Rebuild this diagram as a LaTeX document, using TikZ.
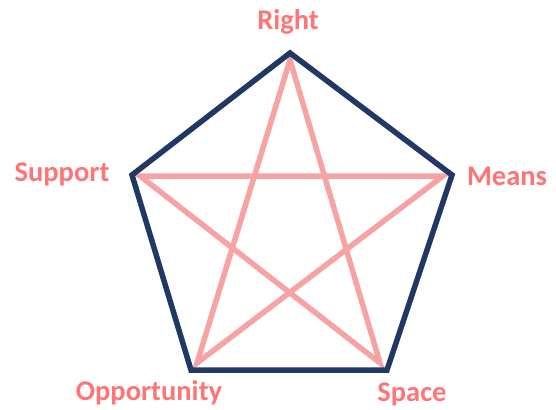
\documentclass[tikz,border=0pt]{standalone}
\usepackage{fontspec}
\setmainfont{Carlito}
\definecolor{navy}{HTML}{203864}
\definecolor{starpink}{HTML}{F8A3A3}
\definecolor{labelpink}{HTML}{FF7474}
\begin{document}
\begin{tikzpicture}[x=1pt,y=-1pt,
  lbl/.style={text=labelpink,font=\fontsize{28.5}{32}\selectfont\bfseries,inner sep=0pt},
  outline/.style={draw=navy,line width=5.5pt,line join=miter},
  starline/.style={draw=starpink,line width=5.5pt,line join=miter}]
\useasboundingbox (0,0) rectangle (556,409);
% pentagon vertices
\coordinate (T) at (290,53);
\coordinate (R) at (452,175);
\coordinate (BR) at (387,370);
\coordinate (BL) at (191,370);
\coordinate (L) at (132,175);
% star points
\coordinate (sT) at (290,60);
\coordinate (sR) at (443,176);
\coordinate (sBR) at (380,363);
\coordinate (sBL) at (197,363);
\coordinate (sL) at (140,176);
\draw[starline] (sT) -- (sBL) -- (sR) -- (sL) -- (sBR) -- cycle;
\draw[outline] (T) -- (R) -- (BR) -- (BL) -- (L) -- cycle;
\node[lbl] (right) at (288,22) {Right};
\node[lbl] (support) at (62,174) {Support};
\node[lbl] (means) at (507,176) {Means};
\node[lbl] (opp) at (149,393) {Opportunity};
\node[lbl] (space) at (412,394) {Space};
\end{tikzpicture}
\end{document}
